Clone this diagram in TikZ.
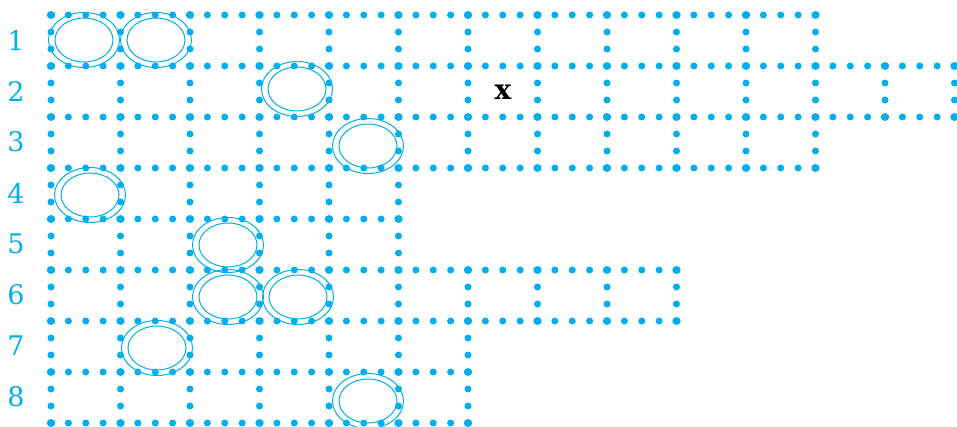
\documentclass[tikz,border=0pt]{standalone}
\usepackage{fontspec}
\setmainfont{DejaVu Serif}
\definecolor{gridblue}{HTML}{00AEEF}
\begin{document}
\begin{tikzpicture}[x=1pt,y=-1pt,
  dot/.style={fill=gridblue},
  ring/.style={draw=gridblue,line width=1pt},
  rowlabel/.style={text=gridblue,font=\fontsize{27}{27}\selectfont,anchor=center,inner sep=0pt},
  crossmark/.style={font=\fontsize{28}{28}\selectfont\bfseries,anchor=center,inner sep=0pt}]
\useasboundingbox (0,0) rectangle (957,427);
% horizontal dotted lines: line index / last column
\foreach \j/\e in {0/11,1/13,2/13,3/11,4/5,5/9,6/9,7/6,8/6}{
  \pgfmathtruncatemacro{\n}{4*\e}
  \foreach \m in {0,...,\n}{
    \fill[dot] ({51+17.375*\m},{15+51*\j}) circle (3.5pt);
  }
  \foreach \k in {0,...,\e}{
    \fill[dot] ({51+69.5*\k},{15+51*\j}) ellipse (4.2pt and 3.9pt);
  }
}
% vertical dotted lines: row / last column
\foreach \i/\e in {1/11,2/13,3/11,4/5,5/5,6/9,7/6,8/6}{
  \foreach \k in {0,...,\e}{
    \fill[dot] ({51+69.5*\k},{15+51*(\i-1)+17}) circle (3.5pt);
    \fill[dot] ({51+69.5*\k},{15+51*(\i-1)+34}) circle (3.5pt);
  }
}
% double rings
\foreach \cx/\cy in {84/40,156/40,297/89,368/146,90/195,228/245,228/297,298/297,157/348,368/401}{
  \draw[ring] (\cx,\cy) ellipse (35.5 and 27.5);
  \draw[ring] (\cx,\cy) ellipse (29 and 22);
}
% row labels
\foreach \i in {1,...,8}{
  \node[rowlabel] (r\i) at (16,{40+51*(\i-1)}) {\i};
}
% cross
\node[crossmark] (xmark) at (503,92.5) {x};
\end{tikzpicture}
\end{document}
